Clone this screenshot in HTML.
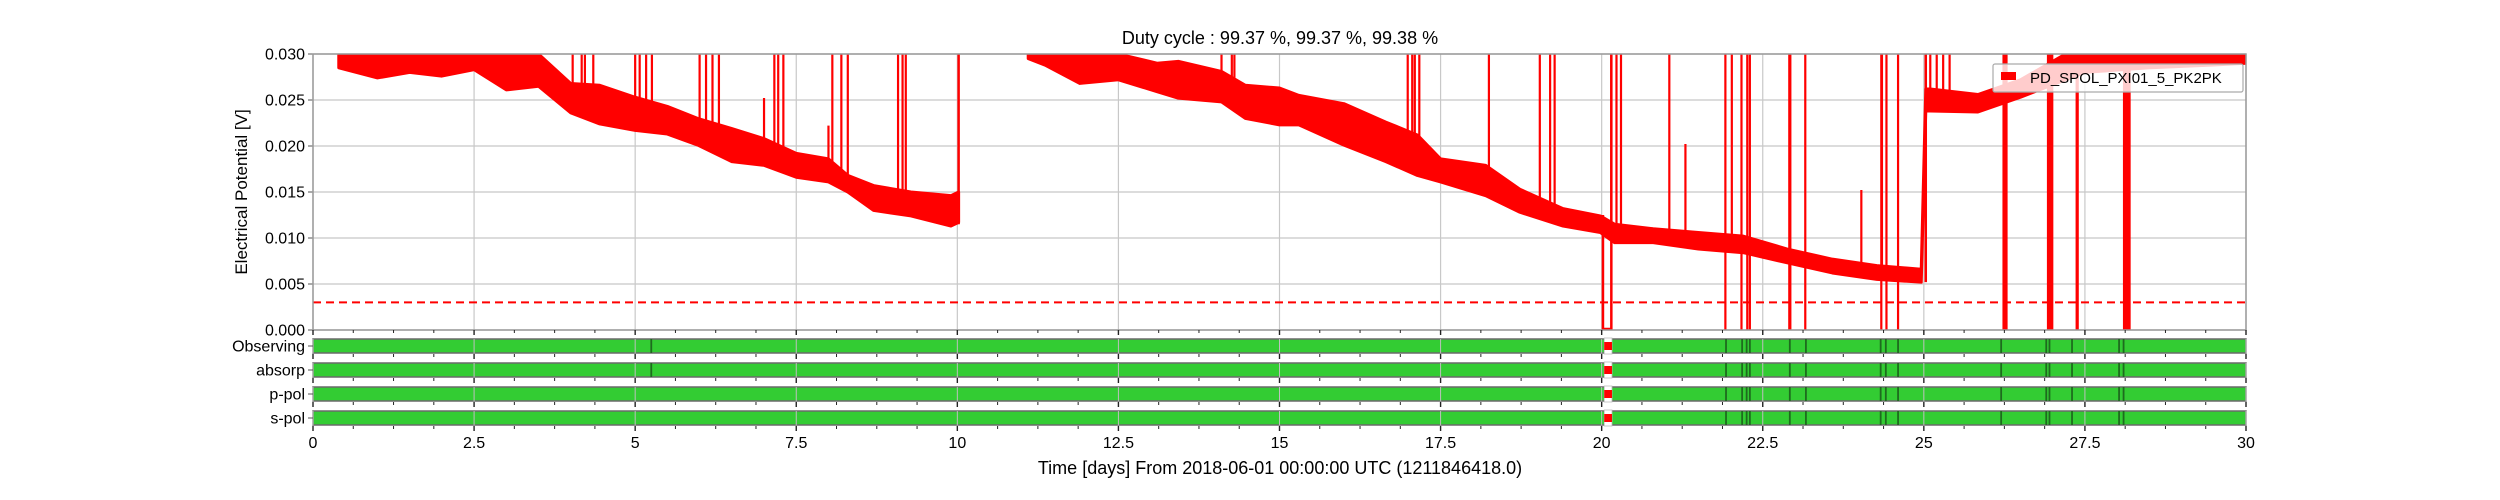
<!DOCTYPE html>
<html><head><meta charset="utf-8"><style>
html,body{margin:0;padding:0;background:#fff;}
svg{display:block;font-family:"Liberation Sans",Arial,sans-serif;}
</style></head><body>
<svg id="chart" width="2500" height="500" viewBox="0 0 2500 500" xmlns="http://www.w3.org/2000/svg">
<text x="1280" y="44" font-size="18" text-anchor="middle" fill="#000">Duty cycle : 99.37 %, 99.37 %, 99.38 %</text>
<text transform="translate(247,192) rotate(-90)" font-size="17" text-anchor="middle" fill="#000">Electrical Potential [V]</text>
<text x="1280" y="474" font-size="18" text-anchor="middle" fill="#000">Time [days] From 2018-06-01 00:00:00 UTC (1211846418.0)</text>
<g id="g"></g>
</svg>
<script>
// ---- data ----
const bandDays1 = [0.4,1.0,1.5,2.0,2.5,3.0,3.5,4.0,4.45,5.0,5.5,5.97,6.5,7.0,7.5,8.0,8.3,8.7,9.28,9.9,10.02];
const bandHi1   = [0.030,0.030,0.030,0.030,0.030,0.030,0.030,0.0268,0.0266,0.0253,0.0243,0.0230,0.0219,0.0208,0.0192,0.0186,0.0168,0.0157,0.0150,0.0146,0.0150];
const bandLo1   = [0.0285,0.0274,0.0280,0.0276,0.0283,0.0261,0.0265,0.0236,0.0224,0.0217,0.0213,0.0201,0.0183,0.0179,0.0166,0.0161,0.0150,0.0130,0.0124,0.0113,0.0117];
const bandDays2 = [11.1,11.36,11.9,12.5,13.1,13.43,14.1,14.47,15.0,15.3,16.0,16.65,17.14,17.5,18.2,18.73,19.4,19.98,20.2,20.8,21.5,22.2,22.88,23.58,24.27,24.96,25.03,25.1,25.84,26.5,27.2,27.5,28.5,29.5,30.0];
const bandHi2   = [0.030,0.030,0.030,0.030,0.029,0.0292,0.0281,0.0266,0.0263,0.0255,0.0246,0.0226,0.0212,0.0186,0.0179,0.0153,0.0132,0.0124,0.0115,0.0110,0.0106,0.0102,0.0088,0.0077,0.0070,0.0066,0.0262,0.0262,0.0256,0.0272,0.030,0.030,0.030,0.030,0.030];
const bandLo2   = [0.0295,0.0288,0.0268,0.0272,0.0259,0.0252,0.0248,0.0230,0.0223,0.0223,0.0201,0.0183,0.0168,0.0161,0.0146,0.0128,0.0113,0.0106,0.0095,0.0095,0.0088,0.0084,0.0073,0.0062,0.0055,0.0052,0.0238,0.0238,0.0237,0.0253,0.0272,0.0280,0.0285,0.0288,0.0290];
const spikeDays = [4.03,4.17,4.22,4.35,5.0,5.07,5.17,5.26,6.0,6.1,6.2,6.3,7.0,7.16,7.22,7.3,8.0,8.06,8.2,8.3,9.08,9.15,9.2,14.1,14.26,14.3,16.99,17.06,17.1,17.17,18.25,19.04,19.2,19.27,20.15,20.23,20.3,21.05,21.3,22.02,24.03,24.35,25.1,25.2,25.3,25.4];
const spikeTops = [0.030,0.030,0.030,0.030,0.030,0.030,0.030,0.030,0.030,0.030,0.030,0.030,0.025,0.030,0.030,0.030,0.022,0.030,0.030,0.030,0.030,0.030,0.030,0.030,0.030,0.030,0.030,0.030,0.030,0.030,0.030,0.030,0.030,0.030,0.030,0.030,0.030,0.030,0.020,0.030,0.015,0.030,0.030,0.030,0.030,0.030];
const dropDays  = [21.92,22.17,22.26,22.3,22.92,23.16,24.34,24.42,24.6,26.26,26.96,27.38,28.15];
const dropWidths= [0.02,0.02,0.02,0.02,0.05,0.03,0.02,0.02,0.02,0.08,0.1,0.05,0.12];
const gapStart = 20.02, gapEnd = 20.15;
const threshold = 0.003;
const yTicks = [0.000,0.005,0.010,0.015,0.020,0.025,0.030];
const yTickLabels = ["0.000","0.005","0.010","0.015","0.020","0.025","0.030"];
const xTicks = [0,2.5,5,7.5,10,12.5,15,17.5,20,22.5,25,27.5,30];
const xTickLabels = ["0","2.5","5","7.5","10","12.5","15","17.5","20","22.5","25","27.5","30"];
const rowNames = ["Observing","absorp","p-pol","s-pol"];
const flagDays = [21.93,22.18,22.25,22.3,22.92,23.17,24.33,24.41,24.6,26.2,26.9,26.95,27.3,28.03,28.1];
const extraFlagDays = [5.25];
const redStart = 20.04, redEnd = 20.16;

// ---- geometry ----
const X0=313, X1=2246, YT=54, YB=330;
const xs = d => X0 + (X1-X0)*d/30;
const ys = v => YB - (YB-YT)*v/0.030;
const NS="http://www.w3.org/2000/svg";
const g=document.getElementById('g');
function mk(tag, attrs, parent){const e=document.createElementNS(NS,tag);for(const k in attrs)e.setAttribute(k,attrs[k]);(parent||g).appendChild(e);return e;}
function interp(days,vals,d){
  if(d<=days[0])return vals[0];
  for(let i=1;i<days.length;i++){if(d<=days[i]){const t=(d-days[i-1])/(days[i]-days[i-1]);return vals[i-1]+t*(vals[i]-vals[i-1]);}}
  return vals[vals.length-1];
}
function bandMid(d){
  if(d<=bandDays1[bandDays1.length-1]) return interp(bandDays1,bandLo1,d);
  return interp(bandDays2,bandLo2,d);
}

const defs=mk('defs',{});
const cp=mk('clipPath',{id:'clip'},defs);
mk('rect',{x:X0,y:YT,width:X1-X0,height:YB-YT},cp);

yTicks.forEach((v,i)=>{
  const l=mk('line',{x1:X0,x2:X1,y1:ys(v),y2:ys(v),stroke:'#c8c8c8','stroke-width':1.2});
  
  
  const t=mk('line',{x1:X0-5,x2:X0,y1:ys(v),y2:ys(v),stroke:'#555','stroke-width':1});
  
  
  const tx=mk('text',{x:X0-8,y:ys(v)+5.5,'font-size':16,'text-anchor':'end',fill:'#000'});
  tx.textContent=yTickLabels[i];
  
  
});
xTicks.forEach(d=>{
  const l=mk('line',{x1:xs(d),x2:xs(d),y1:YT,y2:YB,stroke:'#c8c8c8','stroke-width':1.2});
  
  
});

const dg=mk('g',{'clip-path':'url(#clip)'});


function band(days,hi,lo,name){
  let p=days.map((d,i)=>xs(d)+','+ys(hi[i])).concat(days.map((d,i)=>xs(d)+','+ys(lo[i])).reverse());
  const e=mk('polygon',{points:p.join(' '),fill:'#ff0000',stroke:'#ff0000','stroke-width':3,'stroke-linejoin':'round'},dg);
  
  
}
band(bandDays1,bandHi1,bandLo1,'signal-band-1');
band(bandDays2,bandHi2,bandLo2,'signal-band-2');
spikeDays.forEach((d,i)=>{
  const e=mk('line',{x1:xs(d),x2:xs(d),y1:ys(spikeTops[i])-2,y2:ys(bandMid(d)),stroke:'#ff0000','stroke-width':2.2},dg);
  
  
});
[[10.02,0.0115],[25.03,0.0052]].forEach(j=>{
  const e=mk('line',{x1:xs(j[0]),x2:xs(j[0]),y1:YT,y2:ys(j[1]),stroke:'#ff0000','stroke-width':2.5},dg);
  
  
});
dropDays.forEach((d,i)=>{
  const w=Math.max(2.2,xs(dropWidths[i])-xs(0));
  const e=mk('rect',{x:xs(d)-w/2,y:YT,width:w,height:YB-YT,fill:'#ff0000'},dg);
  
  
});
{
  const e=mk('path',{d:`M${xs(gapStart)},${ys(0.0125)} L${xs(gapStart)},${YB-1} L${xs(gapEnd)},${YB-1} L${xs(gapEnd)},${YT}`,fill:'none',stroke:'#ff0000','stroke-width':2.5},dg);
  
  
}
{
  const e=mk('line',{x1:X0,x2:X1,y1:ys(threshold),y2:ys(threshold),stroke:'#ff0000','stroke-width':2,'stroke-dasharray':'8,5'});
  
  
}
{
  const e=mk('rect',{x:X0,y:YT,width:X1-X0,height:YB-YT,fill:'none',stroke:'#999','stroke-width':1.5});
  
  
}
function xticksAt(y){
  for(let k=0;k<=48;k++){
    const d=k*0.625, major=(k%4===0);
    const e=mk('line',{x1:xs(d),x2:xs(d),y1:y,y2:y+(major?5:3),stroke:'#222','stroke-width':major?1.4:1});
    
    
  }
}
xticksAt(YB);

{
  const lg=mk('g',{});
  
  
  mk('rect',{x:1993,y:64,width:250,height:28,fill:'rgba(255,255,255,0.8)',stroke:'#aaa','stroke-width':1.2,rx:2},lg);
  const p=mk('rect',{x:2001,y:72,width:15,height:8,fill:'#ff0000'},lg);
  
  
  const t=mk('text',{x:2030,y:83,'font-size':15,fill:'#000'},lg);
  t.textContent='PD_SPOL_PXI01_5_PK2PK';
  
  
}

rowNames.forEach((name,i)=>{
  const top=339+24*i, h=14;
  const rg=mk('g',{});
  
  
  const b=mk('rect',{x:X0,y:top,width:X1-X0,height:h,fill:'#33cc33',stroke:'#6a6a6a','stroke-width':1.5},rg);
  
  
  xTicks.forEach(d=>{
    const l=mk('line',{x1:xs(d),x2:xs(d),y1:top,y2:top+h,stroke:'#bfbfbf','stroke-width':1},rg);
    
    
  });
  const fl = i<2 ? flagDays.concat(extraFlagDays) : flagDays;
  fl.forEach(d=>{
    const l=mk('line',{x1:xs(d),x2:xs(d),y1:top,y2:top+h,stroke:'#1e6b1e','stroke-width':1.8},rg);
    
    
  });
  const w=mk('rect',{x:xs(redStart),y:top-1,width:xs(redEnd)-xs(redStart),height:h+2,fill:'#fff',stroke:'#bbb','stroke-width':0.8},rg);
  
  
  const r=mk('rect',{x:xs(redStart),y:top+3,width:xs(redEnd)-xs(redStart),height:h-6,fill:'#ff0000'},rg);
  
  
  const t=mk('text',{x:X0-8,y:top+h/2+5.5,'font-size':16,'text-anchor':'end',fill:'#000'},rg);
  t.textContent=name;
  
  
  const tk=mk('line',{x1:X0-5,x2:X0,y1:top+h/2,y2:top+h/2,stroke:'#555','stroke-width':1},rg);
  
  
  xticksAt(top+h+1);
});
xTicks.forEach((d,i)=>{
  const t=mk('text',{x:xs(d),y:448,'font-size':16,'text-anchor':'middle',fill:'#000'});
  t.textContent=xTickLabels[i];
  
  
});
</script>
</body></html>
